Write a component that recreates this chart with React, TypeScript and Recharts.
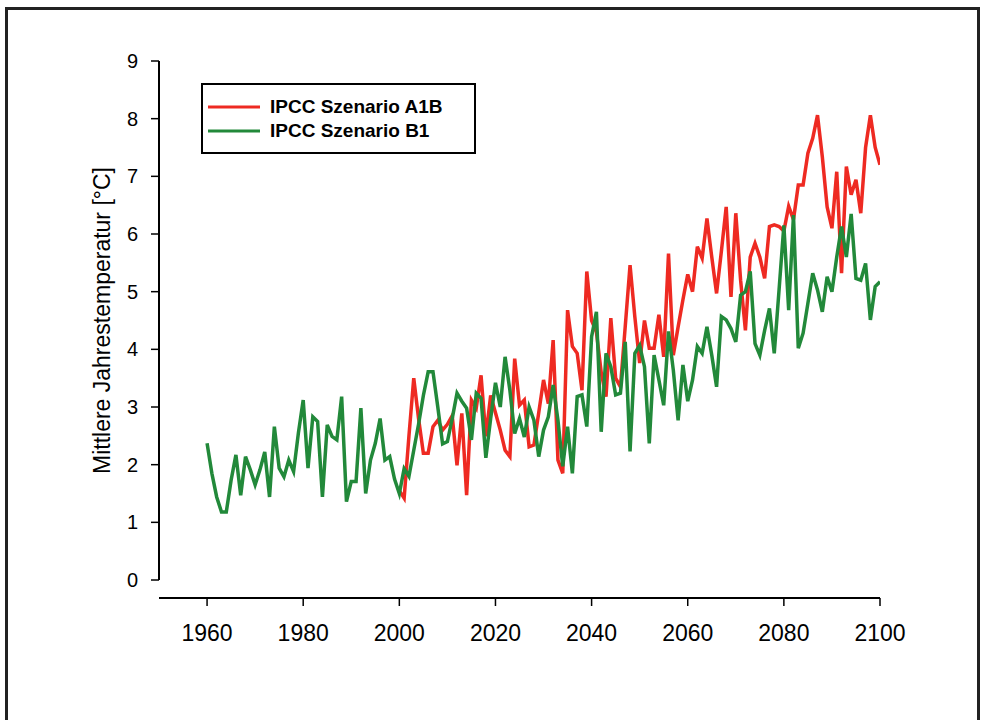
import React from "react";
import { Label, Legend, Line, LineChart, ReferenceLine, XAxis, YAxis } from "recharts";

// mean annual temperature, B1 scenario, 1960..2100
const b1StartYear = 1960;
const b1Values = [
  2.37, 1.85, 1.44, 1.18, 1.18, 1.73, 2.17, 1.47, 2.14, 1.91,
  1.65, 1.91, 2.22, 1.44, 2.66, 1.94, 1.79, 2.08, 1.88, 2.55,
  3.12, 1.94, 2.83, 2.75, 1.44, 2.69, 2.49, 2.43, 3.18, 1.36,
  1.71, 1.71, 2.98, 1.5, 2.08, 2.37, 2.8, 2.08, 2.14, 1.75,
  1.5, 1.93, 1.8, 2.25, 2.7, 3.2, 3.61, 3.61, 3.0, 2.36,
  2.4, 2.8, 3.24, 3.1, 2.98, 2.43, 3.24, 3.15, 2.12, 2.8,
  3.42, 3.0, 3.87, 3.29, 2.54, 2.8, 2.48, 3.0, 2.77, 2.14,
  2.6, 2.83, 3.38, 2.77, 1.97, 2.66, 1.85, 3.18, 3.21, 2.66,
  4.22, 4.65, 2.57, 3.93, 3.7, 3.21, 3.24, 4.13, 2.23, 3.93,
  4.07, 3.7, 2.37, 3.9, 3.47, 3.03, 4.31, 3.64, 2.77, 3.73,
  3.1, 3.47, 4.05, 3.93, 4.39, 3.9, 3.35, 4.57, 4.51, 4.36,
  4.13, 4.94, 5.0, 5.35, 4.1, 3.9, 4.33, 4.71, 3.93, 5.03,
  6.15, 4.68, 6.33, 4.02, 4.28, 4.8, 5.32, 5.03, 4.65, 5.26,
  5.0, 5.6, 6.13, 5.6, 6.35, 5.23, 5.2, 5.49, 4.51, 5.09,
  5.17,
];

// A1B scenario, 2000..2100
const a1bStartYear = 2000;
const a1bValues = [
  1.55, 1.42, 2.5, 3.5, 2.8, 2.2, 2.2, 2.66, 2.77, 2.6,
  2.7, 2.85, 1.99, 2.89, 1.47, 3.12, 2.98, 3.55, 2.49, 3.2,
  2.9, 2.6, 2.25, 2.14, 3.84, 3.03, 3.12, 2.31, 2.34, 2.9,
  3.47, 3.06, 4.16, 2.08, 1.85, 4.68, 4.05, 3.93, 3.29, 5.35,
  4.5, 4.3, 3.6, 3.18, 4.54, 3.5, 3.35, 4.4, 5.46, 4.56,
  3.76, 4.5, 4.02, 4.02, 4.6, 3.87, 5.66, 3.9, 4.39, 4.86,
  5.3, 5.0, 5.78, 5.58, 6.27, 5.6, 4.97, 5.7, 6.47, 4.91,
  6.36, 5.2, 4.33, 5.6, 5.84, 5.6, 5.23, 6.13, 6.16, 6.13,
  6.05, 6.48, 6.25, 6.85, 6.85, 7.4, 7.66, 8.06, 7.34, 6.47,
  6.1, 7.08, 5.32, 7.17, 6.68, 6.94, 6.36, 7.5, 8.06, 7.5,
  7.2,
];

const xTicks = [1960, 1980, 2000, 2020, 2040, 2060, 2080, 2100];
const yTicks = [0, 1, 2, 3, 4, 5, 6, 7, 8, 9];

const data = b1Values.map((b1, i) => {
  const year = b1StartYear + i;
  const j = year - a1bStartYear;
  return { year, b1, a1b: j >= 0 ? a1bValues[j] : null };
});

const font = "'Liberation Sans', Arial, sans-serif";

const YTitle = (props: any) => {
  const { viewBox } = props;
  const cx = viewBox.x + viewBox.width / 2;
  const cy = viewBox.y + viewBox.height / 2 - 9;
  return (
    <text
      x={cx}
      y={cy}
      transform={`rotate(-90, ${cx}, ${cy})`}
      textAnchor="middle"
      dominantBaseline="central"
      fontSize={23}
      fontFamily={font}
      fill="#000"
    >
      Mittlere Jahrestemperatur [°C]
    </text>
  );
};

const LegendBox = (props: any) => {
  const items = props.payload || [];
  return (
    <div style={{ paddingTop: 10, paddingLeft: 5 }}>
      {items.map((item: any) => (
        <div key={item.value} style={{ display: "flex", alignItems: "center", height: 24 }}>
          <svg width={52} height={6} style={{ display: "block" }}>
            <line x1={0} y1={3} x2={52} y2={3} stroke={item.color} strokeWidth={3} />
          </svg>
          <span
            style={{
              marginLeft: 10,
              fontFamily: font,
              fontWeight: "bold",
              fontSize: 19,
              color: "#000",
              lineHeight: "24px",
              whiteSpace: "nowrap",
            }}
          >
            {item.value}
          </span>
        </div>
      ))}
    </div>
  );
};

export default function App() {
  return (
    <div
      style={{
        position: "absolute",
        left: 0,
        top: 0,
        width: 984,
        height: 720,
        background: "#fff",
        overflow: "hidden",
      }}
    >
      <div
        style={{
          position: "absolute",
          left: 5,
          top: 7,
          width: 975,
          height: 760,
          border: "3px solid #222",
          boxSizing: "border-box",
        }}
      />
      <div style={{ position: "absolute", left: 0, top: 0 }}>
        <LineChart
          width={984}
          height={720}
          data={data}
          margin={{ top: 61, right: 104, bottom: 62, left: 45 }}
        >
          <XAxis
            dataKey="year"
            type="number"
            domain={[1950, 2100]}
            allowDataOverflow
            ticks={xTicks}
            height={60}
            axisLine={{ stroke: "#000", strokeWidth: 2 }}
            tickLine={{ stroke: "#000", strokeWidth: 1.5 }}
            tickSize={8}
            tickMargin={19}
            tick={{ fontSize: 23, fill: "#000", fontFamily: font }}
          />
          <YAxis
            type="number"
            domain={[-0.312, 9]}
            allowDataOverflow
            ticks={yTicks}
            width={114}
            axisLine={false}
            tickLine={{ stroke: "#000", strokeWidth: 1.5 }}
            tickSize={8}
            tickMargin={13}
            tick={{ fontSize: 20, fill: "#000", fontFamily: font }}
          >
            <Label content={YTitle} />
          </YAxis>
          <ReferenceLine
            segment={[
              { x: 1950, y: 0 },
              { x: 1950, y: 9 },
            ]}
            stroke="#000"
            strokeWidth={2}
          />
          <Legend
            layout="vertical"
            align="center"
            verticalAlign="middle"
            content={LegendBox}
            wrapperStyle={{
              left: 201,
              top: 83,
              width: 275,
              height: 71,
              border: "2px solid #000",
              boxSizing: "border-box",
              background: "#fff",
            }}
          />
          <Line
            name="IPCC Szenario A1B"
            type="linear"
            dataKey="a1b"
            stroke="#ee2a22"
            strokeWidth={3.5}
            dot={false}
            isAnimationActive={false}
          />
          <Line
            name="IPCC Szenario B1"
            type="linear"
            dataKey="b1"
            stroke="#22893a"
            strokeWidth={3.5}
            dot={false}
            isAnimationActive={false}
          />
        </LineChart>
      </div>
    </div>
  );
}
